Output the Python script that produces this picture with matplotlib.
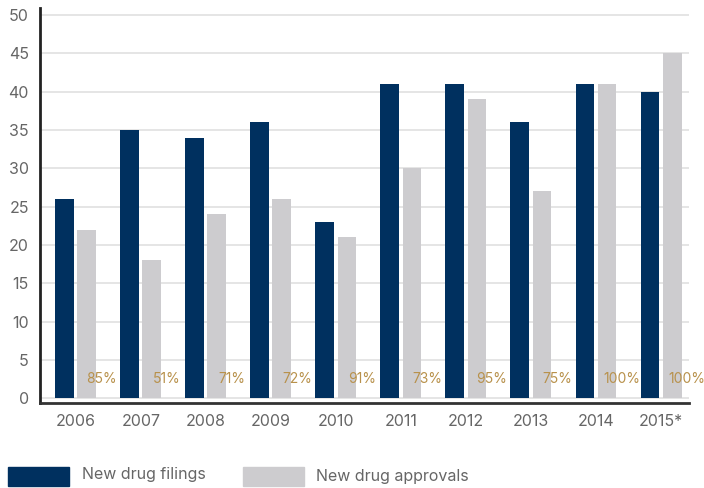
import numpy as np
import matplotlib.pyplot as plt
from matplotlib.patches import Rectangle

# data
years = ['2006', '2007', '2008', '2009', '2010', '2011', '2012', '2013', '2014', '2015*']
filings = [26, 35, 34, 36, 23, 41, 41, 36, 41, 40]
approvals = [22, 18, 24, 26, 21, 30, 39, 27, 41, 45]
pct_labels = ['85%', '51%', '71%', '72%', '91%', '73%', '95%', '75%', '100%', '100%']

navy = '#00305f'
grey = '#cdcccf'
gold = '#b8914b'
text_grey = '#666666'

plt.rcParams['font.family'] = ['Inter', 'DejaVu Sans']

fig = plt.figure(figsize=(7.04, 4.88), dpi=100)
ax = fig.add_axes([40 / 704, 85 / 488, 649 / 704, 395 / 488])

x = np.arange(len(years))
w = 0.29
ax.bar(x - 0.17, filings, width=w, color=navy, zorder=3)
ax.bar(x + 0.17, approvals, width=w, color=grey, zorder=3)

for i, lab in enumerate(pct_labels):
    ax.text(x[i] + 0.40, 2.5, lab, color=gold, fontsize=10, ha='center', va='center', zorder=4)

ax.set_xlim(-0.55, 9.43)
ax.set_ylim(-0.6, 50.9)
ax.set_yticks(range(0, 51, 5))
ax.set_xticks(x)
ax.set_xticklabels(years)
ax.tick_params(axis='both', length=0, labelsize=11.5, labelcolor=text_grey)
ax.tick_params(axis='x', pad=8)
ax.tick_params(axis='y', pad=8)
ax.grid(axis='y', color='#e0e0e0', linewidth=1.2, zorder=0)

for s in ['top', 'right']:
    ax.spines[s].set_visible(False)
ax.spines['left'].set_color('#222222')
ax.spines['left'].set_linewidth(2)
ax.spines['bottom'].set_color('#333333')
ax.spines['bottom'].set_linewidth(2)

# legend drawn by hand at the bottom edge
fig.patches.append(Rectangle((8 / 704, 2 / 488), 61 / 704, 19 / 488, transform=fig.transFigure,
                             color=navy, figure=fig))
fig.text(82 / 704, 1 - 474 / 488, 'New drug filings', color=text_grey, fontsize=11.5, va='center')
fig.patches.append(Rectangle((243 / 704, 2 / 488), 61 / 704, 19 / 488, transform=fig.transFigure,
                             color=grey, figure=fig))
fig.text(316 / 704, 1 - 476 / 488, 'New drug approvals', color=text_grey, fontsize=11.5, va='center')

fig.savefig('out.png', dpi=100)
